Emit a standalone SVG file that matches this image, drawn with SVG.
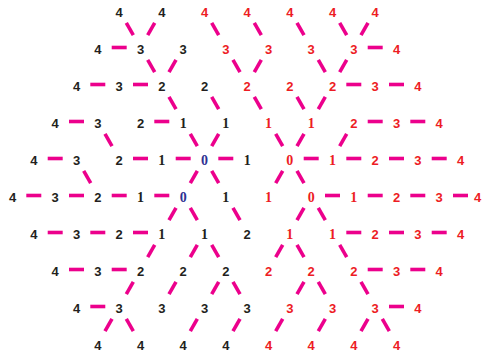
<svg xmlns="http://www.w3.org/2000/svg" xmlns:xlink="http://www.w3.org/1999/xlink" width="482" height="354" viewBox="0 0 482 354">
<style>
.d{stroke:#EC008C;stroke-width:3.6;stroke-linecap:butt;fill:none}
text{text-anchor:middle;font-weight:bold}
.s{font-family:"Liberation Sans","DejaVu Sans",sans-serif;font-size:13px}
.f{font-family:"Liberation Serif","DejaVu Serif",serif;font-size:14px}
.k{fill:#231F20}.r{fill:#ED1C24}.b{fill:#2E3192}
</style>
<defs>
<line id="h" class="d" x1="-7.5" y1="0" x2="7.5" y2="0"/>
<line id="bs" class="d" x1="-3.5" y1="-6.06" x2="3.5" y2="6.06"/>
<line id="fs" class="d" x1="3.5" y1="-6.06" x2="-3.5" y2="6.06"/>
</defs>
<rect width="482" height="354" fill="#fff"/>
<g id="connectors">
<use href="#h" x="119.2" y="47.5"/>
<use href="#h" x="97.8" y="84.5"/><use href="#h" x="140.5" y="84.5"/>
<use href="#h" x="76.5" y="121.5"/><use href="#h" x="161.8" y="121.5"/>
<use href="#h" x="55.2" y="158.5"/><use href="#h" x="140.5" y="158.5"/><use href="#h" x="183.2" y="158.5"/><use href="#h" x="225.8" y="158.5"/>
<use href="#h" x="33.8" y="195.5"/><use href="#h" x="76.5" y="195.5"/><use href="#h" x="119.2" y="195.5"/><use href="#h" x="161.8" y="195.5"/>
<use href="#h" x="55.2" y="232.5"/><use href="#h" x="97.8" y="232.5"/><use href="#h" x="140.5" y="232.5"/>
<use href="#h" x="76.5" y="269.5"/><use href="#h" x="119.2" y="269.5"/>
<use href="#h" x="97.8" y="306.5"/>
<use href="#h" x="375.2" y="47.5"/>
<use href="#h" x="353.8" y="84.5"/><use href="#h" x="396.5" y="84.5"/>
<use href="#h" x="375.2" y="121.5"/><use href="#h" x="417.8" y="121.5"/>
<use href="#h" x="311.2" y="158.5"/><use href="#h" x="353.8" y="158.5"/><use href="#h" x="396.5" y="158.5"/><use href="#h" x="439.2" y="158.5"/>
<use href="#h" x="332.5" y="195.5"/><use href="#h" x="375.2" y="195.5"/><use href="#h" x="417.8" y="195.5"/><use href="#h" x="460.5" y="195.5"/>
<use href="#h" x="353.8" y="232.5"/><use href="#h" x="396.5" y="232.5"/><use href="#h" x="439.2" y="232.5"/>
<use href="#h" x="375.2" y="269.5"/><use href="#h" x="417.8" y="269.5"/>
<use href="#h" x="396.5" y="306.5"/>
<use href="#bs" x="129.8" y="29"/><use href="#fs" x="151.2" y="29"/>
<use href="#bs" x="151.2" y="66"/><use href="#fs" x="172.5" y="66"/>
<use href="#bs" x="172.5" y="103"/><use href="#bs" x="215.2" y="103"/>
<use href="#bs" x="108.5" y="140"/><use href="#bs" x="193.8" y="140"/><use href="#fs" x="215.2" y="140"/>
<use href="#bs" x="87.2" y="177"/><use href="#fs" x="193.8" y="177"/><use href="#bs" x="215.2" y="177"/>
<use href="#fs" x="172.5" y="214"/><use href="#bs" x="193.8" y="214"/><use href="#bs" x="236.5" y="214"/>
<use href="#fs" x="151.2" y="251"/><use href="#fs" x="193.8" y="251"/><use href="#bs" x="215.2" y="251"/>
<use href="#fs" x="129.8" y="288"/><use href="#fs" x="172.5" y="288"/><use href="#fs" x="215.2" y="288"/><use href="#bs" x="236.5" y="288"/>
<use href="#fs" x="108.5" y="325"/><use href="#bs" x="129.8" y="325"/><use href="#fs" x="193.8" y="325"/><use href="#fs" x="236.5" y="325"/>
<use href="#bs" x="215.2" y="29"/><use href="#bs" x="257.8" y="29"/><use href="#bs" x="300.5" y="29"/><use href="#bs" x="343.2" y="29"/><use href="#fs" x="364.5" y="29"/>
<use href="#bs" x="236.5" y="66"/><use href="#fs" x="257.8" y="66"/><use href="#bs" x="321.8" y="66"/><use href="#fs" x="343.2" y="66"/>
<use href="#bs" x="257.8" y="103"/><use href="#bs" x="300.5" y="103"/><use href="#fs" x="321.8" y="103"/>
<use href="#bs" x="279.2" y="140"/><use href="#fs" x="300.5" y="140"/><use href="#fs" x="343.2" y="140"/>
<use href="#fs" x="279.2" y="177"/><use href="#bs" x="300.5" y="177"/>
<use href="#fs" x="300.5" y="214"/><use href="#bs" x="321.8" y="214"/>
<use href="#fs" x="279.2" y="251"/><use href="#bs" x="300.5" y="251"/><use href="#bs" x="343.2" y="251"/>
<use href="#fs" x="300.5" y="288"/><use href="#bs" x="321.8" y="288"/><use href="#bs" x="364.5" y="288"/>
<use href="#fs" x="279.2" y="325"/><use href="#fs" x="321.8" y="325"/><use href="#fs" x="364.5" y="325"/><use href="#bs" x="385.8" y="325"/>
</g>
<g id="n0_5"><text class="s k" x="119.2" y="16.5">4</text></g>
<g id="n0_7"><text class="s k" x="161.8" y="16.5">4</text></g>
<g id="n0_9"><text class="s r" x="204.5" y="16.5">4</text></g>
<g id="n0_11"><text class="s r" x="247.2" y="16.5">4</text></g>
<g id="n0_13"><text class="s r" x="289.8" y="16.5">4</text></g>
<g id="n0_15"><text class="s r" x="332.5" y="16.5">4</text></g>
<g id="n0_17"><text class="s r" x="375.2" y="16.5">4</text></g>
<g id="n1_4"><text class="s k" x="97.8" y="53.5">4</text></g>
<g id="n1_6"><text class="s k" x="140.5" y="53.5">3</text></g>
<g id="n1_8"><text class="s k" x="183.2" y="53.5">3</text></g>
<g id="n1_10"><text class="s r" x="225.8" y="53.5">3</text></g>
<g id="n1_12"><text class="s r" x="268.5" y="53.5">3</text></g>
<g id="n1_14"><text class="s r" x="311.2" y="53.5">3</text></g>
<g id="n1_16"><text class="s r" x="353.8" y="53.5">3</text></g>
<g id="n1_18"><text class="s r" x="396.5" y="53.5">4</text></g>
<g id="n2_3"><text class="s k" x="76.5" y="90.5">4</text></g>
<g id="n2_5"><text class="s k" x="119.2" y="90.5">3</text></g>
<g id="n2_7"><text class="s k" x="161.8" y="90.5">2</text></g>
<g id="n2_9"><text class="s k" x="204.5" y="90.5">2</text></g>
<g id="n2_11"><text class="s r" x="247.2" y="90.5">2</text></g>
<g id="n2_13"><text class="s r" x="289.8" y="90.5">2</text></g>
<g id="n2_15"><text class="s r" x="332.5" y="90.5">2</text></g>
<g id="n2_17"><text class="s r" x="375.2" y="90.5">3</text></g>
<g id="n2_19"><text class="s r" x="417.8" y="90.5">4</text></g>
<g id="n3_2"><text class="s k" x="55.2" y="127.5">4</text></g>
<g id="n3_4"><text class="s k" x="97.8" y="127.5">3</text></g>
<g id="n3_6"><text class="s k" x="140.5" y="127.5">2</text></g>
<g id="n3_8"><text class="f k" x="183.2" y="127.5">1</text></g>
<g id="n3_10"><text class="f k" x="225.8" y="127.5">1</text></g>
<g id="n3_12"><text class="f r" x="268.5" y="127.5">1</text></g>
<g id="n3_14"><text class="f r" x="311.2" y="127.5">1</text></g>
<g id="n3_16"><text class="s r" x="353.8" y="127.5">2</text></g>
<g id="n3_18"><text class="s r" x="396.5" y="127.5">3</text></g>
<g id="n3_20"><text class="s r" x="439.2" y="127.5">4</text></g>
<g id="n4_1"><text class="s k" x="33.8" y="164.5">4</text></g>
<g id="n4_3"><text class="s k" x="76.5" y="164.5">3</text></g>
<g id="n4_5"><text class="s k" x="119.2" y="164.5">2</text></g>
<g id="n4_7"><text class="f k" x="161.8" y="164.5">1</text></g>
<g id="n4_9"><text class="f b" x="204.5" y="164.5">0</text></g>
<g id="n4_11"><text class="f k" x="247.2" y="164.5">1</text></g>
<g id="n4_13"><text class="f r" x="289.8" y="164.5">0</text></g>
<g id="n4_15"><text class="f r" x="332.5" y="164.5">1</text></g>
<g id="n4_17"><text class="s r" x="375.2" y="164.5">2</text></g>
<g id="n4_19"><text class="s r" x="417.8" y="164.5">3</text></g>
<g id="n4_21"><text class="s r" x="460.5" y="164.5">4</text></g>
<g id="n5_0"><text class="s k" x="12.5" y="201.5">4</text></g>
<g id="n5_2"><text class="s k" x="55.2" y="201.5">3</text></g>
<g id="n5_4"><text class="s k" x="97.8" y="201.5">2</text></g>
<g id="n5_6"><text class="f k" x="140.5" y="201.5">1</text></g>
<g id="n5_8"><text class="f b" x="183.2" y="201.5">0</text></g>
<g id="n5_10"><text class="f k" x="225.8" y="201.5">1</text></g>
<g id="n5_12"><text class="f r" x="268.5" y="201.5">1</text></g>
<g id="n5_14"><text class="f r" x="311.2" y="201.5">0</text></g>
<g id="n5_16"><text class="f r" x="353.8" y="201.5">1</text></g>
<g id="n5_18"><text class="s r" x="396.5" y="201.5">2</text></g>
<g id="n5_20"><text class="s r" x="439.2" y="201.5">3</text></g>
<g id="n5_22"><text class="s r" x="477.5" y="201.5">4</text></g>
<g id="n6_1"><text class="s k" x="33.8" y="238.5">4</text></g>
<g id="n6_3"><text class="s k" x="76.5" y="238.5">3</text></g>
<g id="n6_5"><text class="s k" x="119.2" y="238.5">2</text></g>
<g id="n6_7"><text class="f k" x="161.8" y="238.5">1</text></g>
<g id="n6_9"><text class="f k" x="204.5" y="238.5">1</text></g>
<g id="n6_11"><text class="s k" x="247.2" y="238.5">2</text></g>
<g id="n6_13"><text class="f r" x="289.8" y="238.5">1</text></g>
<g id="n6_15"><text class="f r" x="332.5" y="238.5">1</text></g>
<g id="n6_17"><text class="s r" x="375.2" y="238.5">2</text></g>
<g id="n6_19"><text class="s r" x="417.8" y="238.5">3</text></g>
<g id="n6_21"><text class="s r" x="460.5" y="238.5">4</text></g>
<g id="n7_2"><text class="s k" x="55.2" y="275.5">4</text></g>
<g id="n7_4"><text class="s k" x="97.8" y="275.5">3</text></g>
<g id="n7_6"><text class="s k" x="140.5" y="275.5">2</text></g>
<g id="n7_8"><text class="s k" x="183.2" y="275.5">2</text></g>
<g id="n7_10"><text class="s k" x="225.8" y="275.5">2</text></g>
<g id="n7_12"><text class="s r" x="268.5" y="275.5">2</text></g>
<g id="n7_14"><text class="s r" x="311.2" y="275.5">2</text></g>
<g id="n7_16"><text class="s r" x="353.8" y="275.5">2</text></g>
<g id="n7_18"><text class="s r" x="396.5" y="275.5">3</text></g>
<g id="n7_20"><text class="s r" x="439.2" y="275.5">4</text></g>
<g id="n8_3"><text class="s k" x="76.5" y="312.5">4</text></g>
<g id="n8_5"><text class="s k" x="119.2" y="312.5">3</text></g>
<g id="n8_7"><text class="s k" x="161.8" y="312.5">3</text></g>
<g id="n8_9"><text class="s k" x="204.5" y="312.5">3</text></g>
<g id="n8_11"><text class="s k" x="247.2" y="312.5">3</text></g>
<g id="n8_13"><text class="s r" x="289.8" y="312.5">3</text></g>
<g id="n8_15"><text class="s r" x="332.5" y="312.5">3</text></g>
<g id="n8_17"><text class="s r" x="375.2" y="312.5">3</text></g>
<g id="n8_19"><text class="s r" x="417.8" y="312.5">4</text></g>
<g id="n9_4"><text class="s k" x="97.8" y="349.5">4</text></g>
<g id="n9_6"><text class="s k" x="140.5" y="349.5">4</text></g>
<g id="n9_8"><text class="s k" x="183.2" y="349.5">4</text></g>
<g id="n9_10"><text class="s k" x="225.8" y="349.5">4</text></g>
<g id="n9_12"><text class="s r" x="268.5" y="349.5">4</text></g>
<g id="n9_14"><text class="s r" x="311.2" y="349.5">4</text></g>
<g id="n9_16"><text class="s r" x="353.8" y="349.5">4</text></g>
<g id="n9_18"><text class="s r" x="396.5" y="349.5">4</text></g>
</svg>
